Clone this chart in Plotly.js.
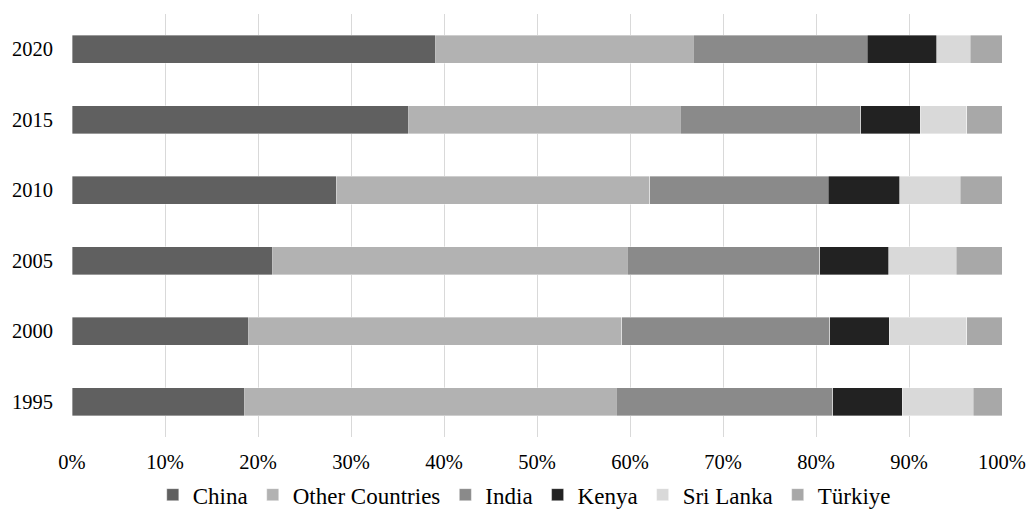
<!DOCTYPE html>
<html>
<head>
<meta charset="utf-8">
<script src="https://cdn.plot.ly/plotly-3.0.1.min.js"></script>
<style>html,body{margin:0;padding:0;background:#fff;}#chart{width:1028px;height:510px;}</style>
</head>
<body>
<div id="chart"></div>
<script>
const years = ["1995", "2000", "2005", "2010", "2015", "2020"];
const china = [18.6, 19.0, 21.6, 28.4, 36.2, 39.1];
const otherCountries = [39.9, 40.1, 38.1, 33.7, 29.2, 27.7];
const india = [23.3, 22.4, 20.7, 19.2, 19.4, 18.7];
const kenya = [7.5, 6.4, 7.4, 7.7, 6.4, 7.5];
const sriLanka = [7.6, 8.3, 7.3, 6.5, 5.0, 3.6];
const turkiye = [3.1, 3.8, 4.9, 4.5, 3.8, 3.4];
const tickVals = [0, 10, 20, 30, 40, 50, 60, 70, 80, 90, 100];
const tickText = ["0%", "10%", "20%", "30%", "40%", "50%", "60%", "70%", "80%", "90%", "100%"];

const series = [
  {name: "China", values: china, color: "#606060"},
  {name: "Other Countries", values: otherCountries, color: "#b2b2b2"},
  {name: "India", values: india, color: "#8a8a8a"},
  {name: "Kenya", values: kenya, color: "#222222"},
  {name: "Sri Lanka", values: sriLanka, color: "#d9d9d9"},
  {name: "Türkiye", values: turkiye, color: "#a8a8a8"}
];

const traces = series.map(s => ({
  type: "bar",
  orientation: "h",
  name: s.name,
  y: years,
  x: s.values,
  marker: {color: s.color, line: {color: "rgba(255,255,255,0.6)", width: 0.6}},
  hoverinfo: "x+y+name"
}));

const family = "Liberation Serif, Times New Roman, serif";
const tickFont = {family: family, size: 20.5, color: "#000"};
const legendFont = {family: family, size: 23, color: "#000"};

const layout = {
  width: 1028,
  height: 510,
  barmode: "stack",
  bargap: 0.6,
  paper_bgcolor: "#fff",
  plot_bgcolor: "#fff",
  font: tickFont,
  margin: {l: 72, r: 26, t: 14, b: 73, pad: 0, autoexpand: false},
  xaxis: {
    range: [0, 100],
    tickvals: tickVals,
    ticktext: tickText,
    showgrid: true,
    gridcolor: "#d9d9d9",
    gridwidth: 1,
    zeroline: false,
    showline: false,
    ticks: "",
    ticklabelstandoff: 10,
    tickfont: tickFont,
    fixedrange: true
  },
  yaxis: {
    type: "category",
    categoryorder: "array",
    categoryarray: years,
    showgrid: false,
    zeroline: false,
    showline: false,
    ticks: "",
    ticklabelstandoff: 18,
    tickfont: tickFont,
    fixedrange: true
  },
  legend: {
    orientation: "h",
    xref: "container",
    yref: "container",
    x: 0.51,
    xanchor: "center",
    y: 0.03,
    yanchor: "middle",
    font: legendFont,
    itemwidth: 30,
    traceorder: "normal",
    bgcolor: "rgba(0,0,0,0)"
  },
  showlegend: true
};

Plotly.newPlot("chart", traces, layout, {displayModeBar: false});
</script>
</body>
</html>
